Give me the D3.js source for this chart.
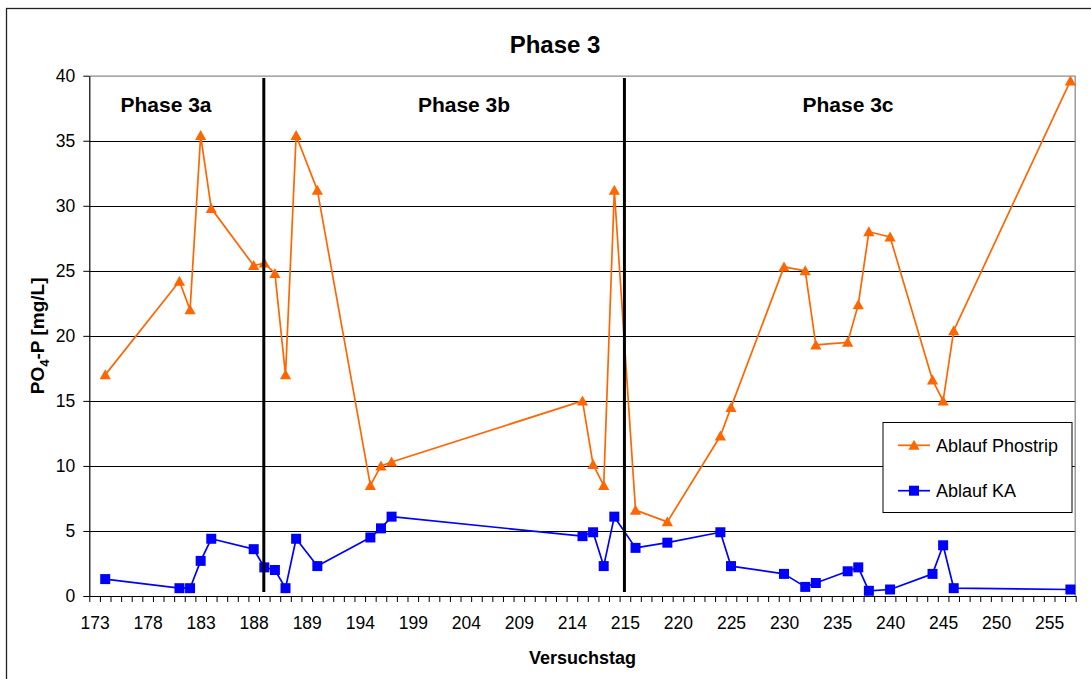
<!DOCTYPE html>
<html>
<head>
<meta charset="utf-8">
<script src="https://cdn.jsdelivr.net/npm/d3@7"></script>
<style>
  html, body { margin: 0; padding: 0; background: #fff; }
  svg { display: block; font-family: "Liberation Sans", Arial, sans-serif; }
</style>
</head>
<body>
<svg id="chart" width="1091" height="679"></svg>
<script>
// Category axis: 93 slots, a label on every 5th slot
const categoryCount = 93;
const tickEvery = 5;
const tickLabels = ["173","178","183","188","189","194","199","204","209","214",
                    "215","220","225","230","235","240","245","250","255"];

// Slot (category index) of each measurement
const slots = [1, 8, 9, 10, 11, 15, 16, 17, 18, 19, 21, 26, 27, 28,
               46, 47, 48, 49, 51, 54, 59, 60, 65, 67, 68, 71, 72, 73,
               75, 79, 80, 81, 92];

// PO4-P [mg/L]
const ablaufPhostrip = [17.0, 24.2, 22.0, 35.4, 29.8, 25.4, 25.6, 24.8, 17.0, 35.4,
                        31.2, 8.5, 10.0, 10.3, 15.0, 10.1, 8.5, 31.2, 6.6, 5.7,
                        12.3, 14.5, 25.3, 25.0, 19.3, 19.5, 22.4, 28.0, 27.6, 16.6,
                        15.0, 20.4, 39.6];
const ablaufKA = [1.3, 0.6, 0.6, 2.7, 4.4, 3.6, 2.2, 2.0, 0.6, 4.4,
                  2.3, 4.5, 5.2, 6.1, 4.6, 4.9, 2.3, 6.1, 3.7, 4.1,
                  4.9, 2.3, 1.7, 0.7, 1.0, 1.9, 2.2, 0.4, 0.5, 1.7,
                  3.9, 0.6, 0.5];

// Phase boundaries (slot positions) and phase names
const phaseBounds = [16, 50];
const phaseNames = ["Phase 3a", "Phase 3b", "Phase 3c"];
const yTicks = [0, 5, 10, 15, 20, 25, 30, 35, 40];

const svg = d3.select("#chart");
const plot = { left: 89.3, right: 1075.7, top: 75.7, bottom: 596 };

const x = d3.scaleLinear().domain([0, categoryCount]).range([plot.left, plot.right]);
const y = d3.scaleLinear().domain([0, 40]).range([plot.bottom, plot.top]);
const cx = i => x(i + 0.5);

// Chart area frame
svg.append("rect")
  .attr("x", 6.5).attr("y", 8.5).attr("width", 1100).attr("height", 700)
  .attr("fill", "#fff").attr("stroke", "#222").attr("stroke-width", 1.3);

// Horizontal gridlines
svg.append("g").selectAll("line")
  .data(yTicks.filter(v => v > 0 && v < 40))
  .join("line")
  .attr("x1", plot.left).attr("x2", plot.right)
  .attr("y1", d => Math.round(y(d)) + 0.5).attr("y2", d => Math.round(y(d)) + 0.5)
  .attr("stroke", "#000").attr("stroke-width", 1);

// Plot area border (top/right)
svg.append("path")
  .attr("d", `M${plot.left},${plot.top + 0.5}H${plot.right - 0.5}V${plot.bottom}`)
  .attr("fill", "none").attr("stroke", "#8c8c8c").attr("stroke-width", 1.3);

// Y axis
const yAxis = svg.append("g")
  .attr("transform", `translate(${plot.left},0)`)
  .call(d3.axisLeft(y).tickValues(yTicks).tickSize(6).tickPadding(8).tickSizeOuter(0));
yAxis.select(".domain").attr("stroke", "#000").attr("stroke-width", 1.2);
yAxis.selectAll(".tick line").attr("stroke", "#000");
yAxis.selectAll(".tick text").attr("font-size", 17.5).attr("fill", "#000")
  .attr("font-family", "Liberation Sans, Arial, sans-serif");

// X axis: tick marks between categories
const xAxis = svg.append("g")
  .attr("transform", `translate(0,${plot.bottom})`)
  .call(d3.axisBottom(x).tickValues(d3.range(0, categoryCount + 1)).tickSize(6)
        .tickSizeOuter(0).tickFormat(""));
xAxis.select(".domain").attr("stroke", "#000").attr("stroke-width", 1.2);
xAxis.selectAll(".tick line").attr("stroke", "#000");

// X axis labels at category centres
const labelPos = tickLabels.map((_, k) => k * tickEvery + 0.5);
const xLabels = svg.append("g")
  .attr("transform", `translate(0,${plot.bottom})`)
  .call(d3.axisBottom(x).tickValues(labelPos).tickSize(0).tickPadding(20.5)
        .tickFormat((d, k) => tickLabels[k]));
xLabels.select(".domain").remove();
xLabels.selectAll(".tick text").attr("font-size", 17.5).attr("fill", "#000")
  .attr("font-family", "Liberation Sans, Arial, sans-serif");

// Series
const series = [
  { name: "Ablauf Phostrip", values: ablaufPhostrip, color: "#FF6600", marker: "triangle" },
  { name: "Ablauf KA", values: ablaufKA, color: "#0000FF", marker: "square" }
];
const triPath = "M0,-5.5L5.6,4.5L-5.6,4.5Z";
const sqPath = "M-5,-5H5V5H-5Z";

series.forEach(s => {
  const pts = slots.map((c, i) => [cx(c), y(s.values[i])]);
  svg.append("path")
    .attr("d", d3.line()(pts))
    .attr("fill", "none").attr("stroke", s.color).attr("stroke-width", 1.7)
    .attr("stroke-linejoin", "round");
  svg.append("g").selectAll("path")
    .data(pts).join("path")
    .attr("transform", d => `translate(${d[0]},${d[1]})`)
    .attr("d", s.marker === "triangle" ? triPath : sqPath)
    .attr("fill", s.color);
});

// Phase separators
svg.append("g").selectAll("line")
  .data(phaseBounds).join("line")
  .attr("x1", d => cx(d) - 0.5).attr("x2", d => cx(d) - 0.5)
  .attr("y1", 78).attr("y2", 592)
  .attr("stroke", "#000").attr("stroke-width", 3);

// Phase names
const phaseCenters = [166, 464, 848];
svg.append("g").selectAll("text")
  .data(phaseNames).join("text")
  .attr("x", (d, i) => phaseCenters[i]).attr("y", 112)
  .attr("text-anchor", "middle").attr("font-weight", "bold")
  .attr("font-size", 21).text(d => d);

// Title
svg.append("text")
  .attr("x", 555).attr("y", 53).attr("text-anchor", "middle")
  .attr("font-weight", "bold").attr("font-size", 24).text("Phase 3");

// Axis titles
svg.append("text")
  .attr("x", (plot.left + plot.right) / 2).attr("y", 664)
  .attr("text-anchor", "middle").attr("font-weight", "bold")
  .attr("font-size", 18).text("Versuchstag");

const yt = svg.append("text")
  .attr("transform", `translate(44,${(plot.top + plot.bottom) / 2}) rotate(-90)`)
  .attr("text-anchor", "middle").attr("font-weight", "bold").attr("font-size", 19);
yt.append("tspan").text("PO");
yt.append("tspan").text("4").attr("font-size", 13).attr("dy", 5);
yt.append("tspan").text("-P [mg/L]").attr("dy", -5);

// Legend
const lg = svg.append("g");
lg.append("rect")
  .attr("x", 883).attr("y", 422.5).attr("width", 189).attr("height", 90)
  .attr("fill", "#fff").attr("stroke", "#000").attr("stroke-width", 1);
series.forEach((s, i) => {
  const ly = 445.3 + i * 45.4;
  lg.append("line").attr("x1", 898).attr("x2", 930).attr("y1", ly).attr("y2", ly)
    .attr("stroke", s.color).attr("stroke-width", 1.7);
  lg.append("path").attr("transform", `translate(914,${ly})`)
    .attr("d", s.marker === "triangle" ? triPath : sqPath).attr("fill", s.color);
  lg.append("text").attr("x", 936).attr("y", ly).attr("dy", "0.35em")
    .attr("font-size", 18).text(s.name);
});
</script>
</body>
</html>
